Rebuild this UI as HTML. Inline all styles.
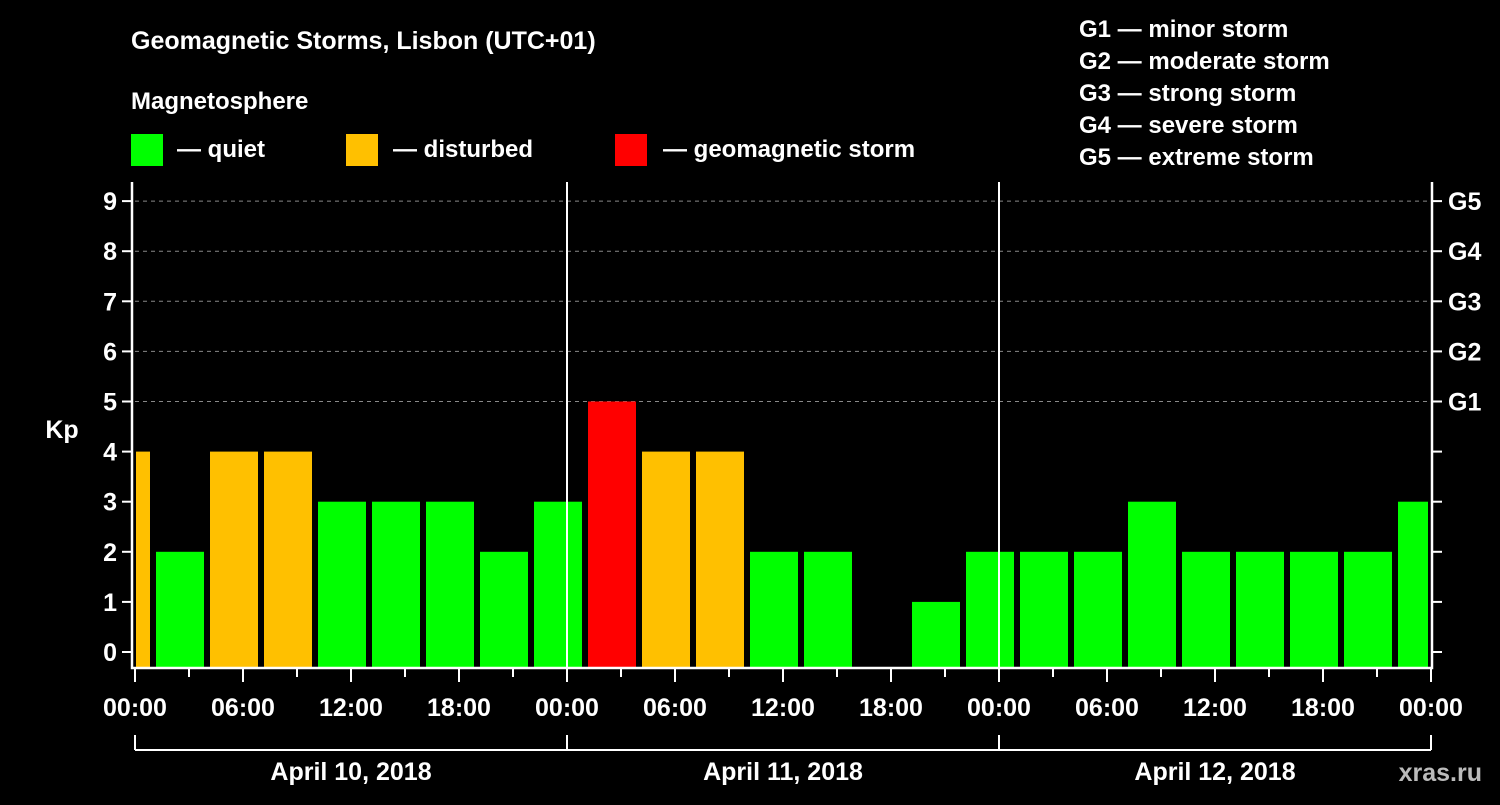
<!DOCTYPE html>
<html><head><meta charset="utf-8"><style>
body{margin:0;background:#000;width:1500px;height:800px;overflow:hidden}
svg text{font-family:"Liberation Sans",Arial,sans-serif;font-weight:bold;fill:#fff}
</style></head><body>
<svg id="chart" width="1500" height="800" xmlns="http://www.w3.org/2000/svg">
<text x="131" y="49" font-size="25">Geomagnetic Storms, Lisbon (UTC+01)</text>
<text x="131" y="109" font-size="24">Magnetosphere</text>
<g font-size="24">
<rect x="131" y="134" width="32" height="32" fill="#00ff00"/>
<text x="177" y="157">— quiet</text>
<rect x="346" y="134" width="32" height="32" fill="#ffc000"/>
<text x="393" y="157">— disturbed</text>
<rect x="615" y="134" width="32" height="32" fill="#ff0000"/>
<text x="663" y="157">— geomagnetic storm</text>
</g>
<g font-size="24">
<text x="1079" y="37">G1 — minor storm</text>
<text x="1079" y="69">G2 — moderate storm</text>
<text x="1079" y="101">G3 — strong storm</text>
<text x="1079" y="133">G4 — severe storm</text>
<text x="1079" y="165">G5 — extreme storm</text>
</g>
<g id="grid"></g><g id="bars"></g><g id="axes"></g>
<text x="62" y="438" font-size="25" text-anchor="middle">Kp</text>
<text x="1482" y="781" font-size="25" text-anchor="end" fill="#bbb" style="fill:#bbb">xras.ru</text>
</svg>
<script>
const kpValues=[4,2,4,4,3,3,3,2,3,5,4,4,2,2,0,1,2,2,2,3,2,2,2,2,3];
const xTickLabels=["00:00","06:00","12:00","18:00","00:00","06:00","12:00","18:00","00:00","06:00","12:00","18:00","00:00"];
const dayLabels=["April 10, 2018","April 11, 2018","April 12, 2018"];
const gLabels=["G1","G2","G3","G4","G5"];
const NS="http://www.w3.org/2000/svg";
const L=135,R=1431,T=182,B=668,totalHours=72;
const x=h=>L+(R-L)*h/totalHours;
const y=v=>652-v*50.1;
function mk(tag,attrs,parent,txt){const e=document.createElementNS(NS,tag);for(const k in attrs)e.setAttribute(k,attrs[k]);if(txt!==undefined)e.textContent=txt;parent.appendChild(e);return e;}
const grid=document.getElementById('grid'),bars=document.getElementById('bars'),axes=document.getElementById('axes');
for(let v=5;v<=9;v++){const l=mk('line',{x1:L,x2:R,y1:y(v),y2:y(v),stroke:'#888','stroke-dasharray':'4,4','stroke-width':1},grid);

}
kpValues.forEach((v,k)=>{
 let h0=3*k-2,h1=3*k+1;
 let x0=Math.max(x(h0)+3,L+1),x1=Math.min(x(h1)-3,R-3);
 if(v<=0)return;
 const c=v>=5?'#ff0000':(v>=4?'#ffc000':'#00ff00');
 const r=mk('rect',{x:x0,y:y(v),width:x1-x0,height:B-y(v),fill:c},bars);
 
 
});
// frame
const f=mk('path',{d:`M${L-3} ${T}V${B}H${R+1}V${T}`,stroke:'#fff','stroke-width':2.5,fill:'none'},axes);


[1,2].forEach(d=>{const l=mk('line',{x1:x(24*d),x2:x(24*d),y1:T,y2:B,stroke:'#fff','stroke-width':2},axes);

});
for(let v=0;v<=9;v++){
 mk('line',{x1:L-13,x2:L-3,y1:y(v),y2:y(v),stroke:'#fff','stroke-width':2},axes);
 mk('line',{x1:R+1,x2:R+11,y1:y(v),y2:y(v),stroke:'#fff','stroke-width':2},axes);
 const t=mk('text',{x:L-18,y:y(v)+9,'font-size':25,'text-anchor':'end'},axes,String(v));
 
 
}
gLabels.forEach((g,i)=>{const t=mk('text',{x:1448,y:y(5+i)+9,'font-size':25},axes,g);

});
for(let h=0;h<=72;h+=3){mk('line',{x1:x(h),x2:x(h),y1:B,y2:h%6?B+9:B+14,stroke:'#fff','stroke-width':2},axes);}
xTickLabels.forEach((s,i)=>{const t=mk('text',{x:x(i*6),y:716,'font-size':25,'text-anchor':'middle'},axes,s);

});
mk('line',{x1:x(0),x2:x(72),y1:750,y2:750,stroke:'#fff','stroke-width':2},axes);
for(let d=0;d<=3;d++)mk('line',{x1:x(24*d),x2:x(24*d),y1:735,y2:750,stroke:'#fff','stroke-width':2},axes);
dayLabels.forEach((s,i)=>{const t=mk('text',{x:x(24*i+12),y:780,'font-size':25,'text-anchor':'middle'},axes,s);

});
</script>
</body></html>
